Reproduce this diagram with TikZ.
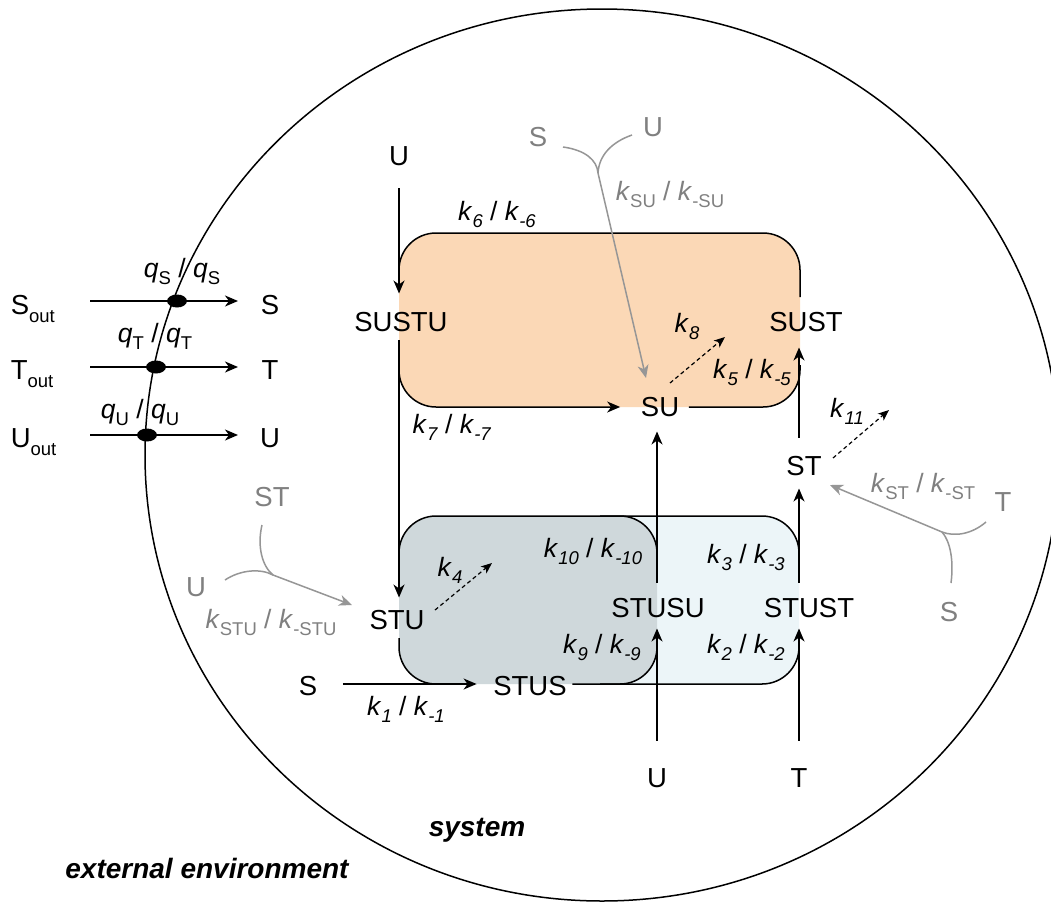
\documentclass[tikz,border=0pt]{standalone}
\usepackage{fontspec}
\setmainfont{Liberation Sans}
\usetikzlibrary{arrows.meta}
\definecolor{peach}{RGB}{251,216,182}
\definecolor{dkbox}{RGB}{207,216,219}
\definecolor{ltbox}{RGB}{236,245,248}
\definecolor{gtxt}{RGB}{128,128,128}
\definecolor{gline}{RGB}{150,150,150}
\newcommand{\lo}[1]{\raisebox{-0.3em}{\fontsize{18.5}{18.5}\selectfont #1}}
\newcommand{\kk}[2]{\textit{k}\lo{#1}~/~\textit{k}\lo{#2}}
\newcommand{\qq}[1]{\textit{q}\lo{#1}~/~\textit{q}\lo{#1}}
\begin{document}
\begin{tikzpicture}[x=1pt,y=-1pt,line width=1.5pt,
  >={Stealth[length=13pt,width=11pt,inset=4pt]},
  sp/.style={font=\fontsize{27.5}{32}\selectfont,inner sep=0pt},
  gsp/.style={sp,text=gtxt},
  lab/.style={font=\fontsize{26.5}{31}\selectfont,inner sep=0pt,anchor=base},
  glab/.style={lab,text=gtxt},
  boxline/.style={rounded corners=37pt},
  dasharrow/.style={->,line width=1.2pt,dash pattern=on 4pt off 3pt,
    >={Stealth[length=11pt,width=9pt,inset=3pt]}},
  gconn/.style={gline,line width=1.5pt},
  garrow/.style={gline,line width=1.5pt,->,
    >={Stealth[length=13pt,width=11pt,inset=4pt,fill=gline]}},
  blackdot/.style={fill=black},
  region/.style={inner sep=0pt,font=\fontsize{28}{33}\selectfont\bfseries\itshape}]
\useasboundingbox (0,0) rectangle (1051,902);
\fill[white] (0,0) rectangle (1051,902);

% system boundary
\draw (602,455) ellipse [x radius=457pt, y radius=446pt];

% coloured boxes
\fill[peach, rounded corners=37pt] (399,233) rectangle (800,407);
\fill[ltbox, rounded corners=37pt] (560,516) rectangle (799,684);
\fill[dkbox, rounded corners=37pt] (399,516) rectangle (657,684);

% ---------- left: exchange with environment ----------
\node[sp,anchor=base west] (Sout) at (10,314) {S\lo{out}};
\node[sp,anchor=base west] (Tout) at (10,379) {T\lo{out}};
\node[sp,anchor=base west] (Uout) at (10,447) {U\lo{out}};
\node[sp] (Sin) at (270,305) {S};
\node[sp] (Tin) at (270,370) {T};
\node[sp] (Uin) at (270,438) {U};
\coordinate (dS) at (177,301);
\coordinate (dT) at (156,367);
\coordinate (dU) at (147,435);
\draw[->] (dS -| 90,0) -- (dS -| 238,0);
\draw[->] (dT -| 90,0) -- (dT -| 238,0);
\draw[->] (dU -| 90,0) -- (dU -| 238,0);
\fill[blackdot] (dS) ellipse [x radius=10pt, y radius=6.5pt];
\fill[blackdot] (dT) ellipse [x radius=10pt, y radius=6.5pt];
\fill[blackdot] (dU) ellipse [x radius=10pt, y radius=6.5pt];
\node[lab] (qS) at (182,277) {\qq{S}};
\node[lab] (qT) at (155,342) {\qq{T}};
\node[lab] (qU) at (140,418) {\qq{U}};

% ---------- species ----------
\node[sp] (Utop) at (399,156) {U};
\node[sp] (SUSTU) at (401,322) {SUSTU};
\node[sp] (SUST) at (806,322) {SUST};
\node[sp] (SU) at (660,407) {SU};
\node[sp] (ST) at (804,466) {ST};
\node[sp] (STU) at (397,620) {STU};
\node[sp] (STUSU) at (658,608) {STUSU};
\node[sp] (STUST) at (809,608) {STUST};
\node[sp] (STUS) at (530,686) {STUS};
\node[sp] (Sleft) at (308,686) {S};
\node[sp] (Ubot) at (657,778) {U};
\node[sp] (Tbot) at (799,778) {T};

% gray reactants
\node[gsp] (gS1) at (538,137) {S};
\node[gsp] (gU1) at (653,127) {U};
\node[gsp] (gT2) at (1003,502) {T};
\node[gsp] (gS2) at (949,612) {S};
\node[gsp] (gST3) at (272,497) {ST};
\node[gsp] (gU3) at (196,587) {U};

% ---------- box outlines (reaction paths) ----------
\draw[boxline] (399,280) -- (399,233) -- (800,233) -- (800,297);
\draw[boxline,->,shorten >=20pt] (399,345) -- (399,407) -- (SU.west);
\draw[boxline,shorten <=9pt] (SU.east) -- (800,407) -- (800,365);
\draw[boxline] (399,560) -- (399,516) -- (799,516) -- (799,560);
\draw[boxline] (600,516) -- (657,516) -- (657,565);
\draw[boxline] (657,640) -- (657,684) -- (600,684);
\draw[boxline] (399,638) -- (399,684) -- (460,684);
\draw[boxline,shorten <=5pt] (STUS.east |- 0,684) -- (799,684) -- (799,640);

% ---------- vertical / horizontal connectors ----------
\draw[->,shorten <=22pt,shorten >=18pt] (Utop.south) -- (Utop.south |- SUSTU.north);
\draw[->,shorten <=8pt,shorten >=12pt] (SUSTU.south -| Utop) -- (STU.north -| Utop);
\draw[->,shorten <=27pt,shorten >=10pt] (Ubot.north) -- (Ubot.north |- STUSU.south);
\draw[->,shorten <=15pt,shorten >=14pt] (STUSU.north -| Ubot) -- (SU.south -| Ubot);
\draw[->,shorten <=27pt,shorten >=10pt] (Tbot.north) -- (Tbot.north |- STUST.south);
\draw[->,shorten <=15pt,shorten >=12pt] (STUST.north -| Tbot) -- (ST.south -| Tbot);
\draw[->,shorten <=18pt,shorten >=15pt] (ST.north -| Tbot) -- (SUST.south -| Tbot);
\draw[->,shorten <=25pt,shorten >=16pt] (Sleft.east |- 0,684) -- (STUS.west |- 0,684);

% ---------- dashed (irreversible) arrows ----------
\coordinate (k8a) at (670,383); \coordinate (k8b) at (725,337);
\coordinate (k11a) at (833,458); \coordinate (k11b) at (889,410);
\coordinate (k4a) at (435,610); \coordinate (k4b) at (492,563);
\draw[dasharrow] (k8a) -- (k8b);
\draw[dasharrow] (k11a) -- (k11b);
\draw[dasharrow] (k4a) -- (k4b);

% ---------- gray bimolecular inputs ----------
\coordinate (mSU) at (598,173);
\coordinate (aSU) at (563,147);
\coordinate (bSU) at (632,135);
\coordinate (tSU) at (646,378);
\draw[gconn] (aSU) .. controls (585,150) and (597,160) .. (mSU);
\draw[gconn] (bSU) .. controls (612,142) and (599,155) .. (mSU);
\draw[garrow] (mSU) -- (tSU);

\coordinate (mST) at (942,532);
\coordinate (aST) at (986,522);
\coordinate (bST) at (951,583);
\coordinate (tST) at (830,485);
\draw[gconn] (aST) .. controls (972,534) and (955,537) .. (mST);
\draw[gconn] (bST) .. controls (954,560) and (950,541) .. (mST);
\draw[garrow] (mST) -- (tST);

\coordinate (mSTU) at (273,575);
\coordinate (aSTU) at (262,525);
\coordinate (bSTU) at (225,580);
\coordinate (tSTU) at (352,605);
\draw[gconn] (aSTU) .. controls (257,546) and (262,566) .. (mSTU);
\draw[gconn] (bSTU) .. controls (240,570) and (260,568) .. (mSTU);
\draw[garrow] (mSTU) -- (tSTU);

% ---------- rate constant labels ----------
\node[lab] (k6) at (497,220) {\kk{\textit{6}}{\textit{-6}}};
\node[glab] (kSU) at (670,200) {\kk{SU}{-SU}};
\node[lab] (k8) at (687,332) {\textit{k}\lo{\textit{8}}};
\node[lab] (k5) at (752,378) {\kk{\textit{5}}{\textit{-5}}};
\node[lab] (k7) at (452,433) {\kk{\textit{7}}{\textit{-7}}};
\node[lab] (k11) at (847,417) {\textit{k}\lo{\textit{11}}};
\node[glab] (kST) at (923,492) {\kk{ST}{-ST}};
\node[lab] (k10) at (593,557) {\kk{\textit{10}}{\textit{-10}}};
\node[lab] (k3) at (746,563) {\kk{\textit{3}}{\textit{-3}}};
\node[lab] (k9) at (602,653) {\kk{\textit{9}}{\textit{-9}}};
\node[lab] (k2) at (746,653) {\kk{\textit{2}}{\textit{-2}}};
\node[lab] (k4) at (450,576) {\textit{k}\lo{\textit{4}}};
\node[glab] (kSTU) at (271,628) {\kk{STU}{-STU}};
\node[lab] (k1) at (406,715) {\kk{\textit{1}}{\textit{-1}}};

% ---------- region labels ----------
\node[region] (sys) at (477,830) {system};
\node[region] (env) at (207,868) {external environment};
\end{tikzpicture}
\end{document}
